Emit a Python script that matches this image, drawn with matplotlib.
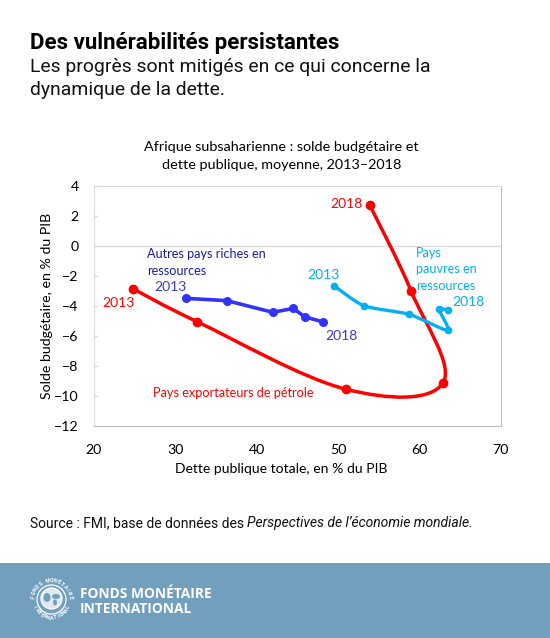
import numpy as np
import matplotlib
matplotlib.use('Agg')
import matplotlib.pyplot as plt
from matplotlib.path import Path
from matplotlib.patches import PathPatch, Circle, Rectangle, Ellipse

W, H = 550, 638

oil_x = [24.8, 32.7, 51.0, 62.9, 59.0, 53.9]
oil_y = [-2.85, -5.05, -9.55, -9.15, -3.0, 2.75]

rich_x = [31.3, 36.3, 42.0, 44.5, 45.9, 48.2]
rich_y = [-3.49, -3.64, -4.42, -4.16, -4.71, -5.07]

poor_x = [49.5, 53.2, 58.8, 63.5, 62.4, 63.5]
poor_y = [-2.64, -3.98, -4.56, -5.62, -4.2, -4.29]

x_ticks = [20, 30, 40, 50, 60, 70]
y_ticks = [4, 2, 0, -2, -4, -6, -8, -10, -12]

RED = '#ff0000'
BLUE = '#3232ff'
CYAN = '#00b0f0'
GREY = '#dcdcdc'
DARK_GREY = '#bfbfbf'
CHART_FONT = 'Lato'


def smooth_path(xs, ys, tension=0.18):
    """Bezier through the points, same idea as Excel smoothed lines."""
    pts = np.column_stack([xs, ys])
    verts = [pts[0]]
    codes = [Path.MOVETO]
    n = len(pts)
    for i in range(n - 1):
        p0 = pts[max(i - 1, 0)]
        p1 = pts[i]
        p2 = pts[i + 1]
        p3 = pts[min(i + 2, n - 1)]
        verts += [p1 + (p2 - p0) * tension, p2 - (p3 - p1) * tension, p2]
        codes += [Path.CURVE4, Path.CURVE4, Path.CURVE4]
    return Path(verts, codes)


fig = plt.figure(figsize=(W / 100, H / 100), dpi=100, facecolor='white')

# header
fig.text(30 / W, 1 - 42.5 / H, 'Des vulnérabilités persistantes', family='Roboto', weight='bold',
         fontsize=16, va='center', color='black')
fig.text(30 / W, 1 - 67 / H, 'Les progrès sont mitigés en ce qui concerne la', family='Roboto',
         fontsize=13.95, va='center', color='#111111')
fig.text(30 / W, 1 - 90 / H, 'dynamique de la dette.', family='Roboto',
         fontsize=13.95, va='center', color='#111111')

# chart title
fig.text(281.5 / W, 1 - 147 / H, 'Afrique subsaharienne : solde budgétaire et', family=CHART_FONT,
         fontsize=10.4, ha='center', va='center', color='black')
fig.text(281.5 / W, 1 - 165 / H, 'dette publique, moyenne, 2013–2018', family=CHART_FONT,
         fontsize=10.4, ha='center', va='center', color='black')

ax = fig.add_axes([94 / W, 1 - 426 / H, 406.5 / W, 240 / H])
ax.set_xlim(20, 70)
ax.set_ylim(-12, 4)
ax.set_xticks(x_ticks)
ax.set_yticks(y_ticks)
ax.set_yticklabels([str(v).replace('-', '\u2212') for v in y_ticks])
ax.tick_params(axis='y', direction='in', length=3, color=GREY, labelsize=10.2, pad=11, width=1)
ax.tick_params(axis='x', length=0, labelsize=10.2, pad=13)
for lab in ax.get_xticklabels() + ax.get_yticklabels():
    lab.set_family(CHART_FONT)
ax.spines['top'].set_color(GREY)
ax.spines['left'].set_color(GREY)
ax.spines['bottom'].set_color(DARK_GREY)
ax.spines['right'].set_color(DARK_GREY)
ax.axhline(0, color=GREY, lw=1, zorder=1)

ax.set_xlabel('Dette publique totale, en % du PIB', family=CHART_FONT, fontsize=10.1, labelpad=5, x=0.46)
ax.set_ylabel('Solde budgétaire, en % du PIB', family=CHART_FONT, fontsize=10.2, labelpad=0.5)

ax.add_patch(PathPatch(smooth_path(oil_x, oil_y), fc='none', ec=RED, lw=2.5, zorder=3, capstyle='round'))
ax.plot(oil_x, oil_y, ls='none', marker='o', ms=6, color=RED, zorder=4)

ax.plot(rich_x, rich_y, color=BLUE, lw=2.6, marker='o', ms=5.5, zorder=3)

ax.add_patch(PathPatch(smooth_path(poor_x, poor_y, 0.12), fc='none', ec=CYAN, lw=2.4, zorder=3))
ax.plot(poor_x, poor_y, ls='none', marker='o', ms=4.5, color=CYAN, zorder=4)

# annotations, placed in data coordinates
ax.text(21.07, -3.78, '2013', color=RED, family=CHART_FONT, fontsize=10, va='center')
ax.text(49.06, 2.8, '2018', color=RED, family=CHART_FONT, fontsize=10, va='center')
ax.text(27.3, -9.78, 'Pays exportateurs de pétrole', color=RED, family=CHART_FONT, fontsize=9.2, va='center')
ax.text(26.5, -0.53, 'Autres pays riches en', color='#1a1ab0', family=CHART_FONT, fontsize=9.1, va='center')
ax.text(26.5, -1.64, 'ressources', color='#1a1ab0', family=CHART_FONT, fontsize=9.1, va='center')
ax.text(27.4, -2.75, '2013', color='#3b3bc4', family=CHART_FONT, fontsize=10, va='center')
ax.text(48.5, -5.98, '2018', color='#3b3bc4', family=CHART_FONT, fontsize=10, va='center')
ax.text(46.2, -1.93, '2013', color=CYAN, family=CHART_FONT, fontsize=10, va='center')
ax.text(59.6, -0.44, 'Pays', color=CYAN, family=CHART_FONT, fontsize=9.1, va='center')
ax.text(59.6, -1.55, 'pauvres en', color=CYAN, family=CHART_FONT, fontsize=9.1, va='center')
ax.text(59.6, -2.67, 'ressources', color=CYAN, family=CHART_FONT, fontsize=9.1, va='center')
ax.text(64.05, -3.71, '2018', color=CYAN, family=CHART_FONT, fontsize=10, va='center')

# source, the italic part goes right after the plain part
src = fig.text(30 / W, 1 - 523 / H, 'Source : FMI, base de données des', family='Roboto', fontsize=10,
               va='center', color='#111111')
fig.canvas.draw()
src_end = src.get_window_extent().x1
fig.text((src_end + 3) / W, 1 - 523 / H, 'Perspectives de l’économie mondiale.', family='Roboto', style='italic',
         fontsize=10, va='center', color='#111111')

# footer band with seal
bg = fig.add_axes([0, 0, 1, 1], zorder=5)
bg.set_xlim(0, W)
bg.set_ylim(H, 0)
bg.axis('off')
bg.patch.set_alpha(0)
bg.add_patch(Rectangle((0, 563), W, 75, fc='#739fbf', ec='none'))
cx, cy = 51.5, 599.5
bg.add_patch(Circle((cx, cy), 14.5, fc='none', ec='white', lw=0.9))
bg.add_patch(Circle((cx, cy - 1), 10.5, fc='#dfe9f1', ec='white', lw=0.9))
bg.add_patch(Ellipse((cx - 4.5, cy - 2), 7, 9, fc='#739fbf', ec='none'))
bg.add_patch(Ellipse((cx + 4.5, cy - 3), 8, 5, fc='#739fbf', ec='none'))
bg.add_patch(Ellipse((cx + 3.5, cy + 3), 4, 6, fc='#739fbf', ec='none'))
seal_top = 'FONDS MONÉTAIRE'
for i, ch in enumerate(seal_top):
    a = np.deg2rad(172 - i * 164 / (len(seal_top) - 1))
    bg.text(cx + 18.5 * np.cos(a), cy - 18.5 * np.sin(a), ch, color='white', fontsize=3.8, family='Roboto',
            weight='bold', ha='center', va='center', rotation=np.rad2deg(a) - 90)
seal_bot = 'INTERNATIONAL'
for i, ch in enumerate(seal_bot):
    a = np.deg2rad(-155 + i * 130 / (len(seal_bot) - 1))
    bg.text(cx + 18.5 * np.cos(a), cy - 18.5 * np.sin(a), ch, color='white', fontsize=3.8, family='Roboto',
            weight='bold', ha='center', va='center', rotation=np.rad2deg(a) + 90)
bg.text(80, 594, 'FONDS MONÉTAIRE', color='white', fontsize=9.9, family='Open Sans', weight='bold', va='center')
bg.text(80, 609, 'INTERNATIONAL', color='white', fontsize=9.9, family='Open Sans', weight='bold', va='center')

fig.savefig('out.png', dpi=100)
